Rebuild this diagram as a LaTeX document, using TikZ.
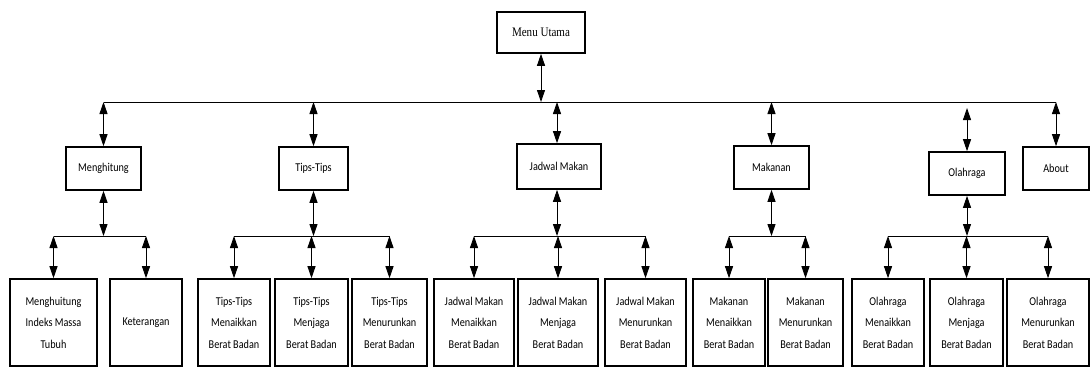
\documentclass[tikz,border=0pt]{standalone}
\usepackage{fontspec}
\setmainfont{Carlito}[FakeStretch=0.85]
\newfontfamily\menufont{Liberation Serif}[FakeStretch=0.85]
\usetikzlibrary{arrows.meta}

\tikzset{
  box/.style={draw, line width=1.6pt, inner sep=0pt, align=center,
    font=\fontsize{12}{21.5}\selectfont},
  upper/.style={box, minimum height=43pt},
  lower/.style={box, minimum height=87pt},
  link/.style={line width=0.9pt,
    {Triangle[width=8pt,length=12pt]}-{Triangle[width=8pt,length=12pt]}},
  rail/.style={line width=0.9pt}
}

\begin{document}
\begin{tikzpicture}[x=1pt,y=-1pt]
		\useasboundingbox (0,0) rectangle (1091,368);
		% main menu
		\node[box, minimum width=88pt, minimum height=41pt,
			font=\menufont\fontsize{13}{15}\selectfont] (menu) at (541,32.5) {Menu Utama};
		\coordinate (bus) at (0,102);
		\coordinate (lowbus) at (0,236);
		% first level
		\node[upper, minimum width=75pt] (hit) at (103.5,168.5) {Menghitung};
		\node[upper, minimum width=69pt] (tips) at (313.5,168.5) {Tips-Tips};
		\node[upper, minimum width=84pt, minimum height=45pt] (jadwal) at (559,166.5) {Jadwal Makan};
		\node[upper, minimum width=75pt] (makan) at (771.5,167.5) {Makanan};
		\node[upper, minimum width=76pt] (olah) at (967,173.5) {Olahraga};
		\node[upper, minimum width=66pt] (about) at (1056,168.5) {About};
		% second level
		\node[lower, minimum width=87pt] (imt) at (53.5,322.5) {Menghuitung\\Indeks Massa\\Tubuh};
		\node[lower, minimum width=72pt] (ket) at (146,322.5) {Keterangan};
		\node[lower, minimum width=72pt] (tnaik) at (234,322.5) {Tips-Tips\\Menaikkan\\Berat Badan};
		\node[lower, minimum width=73pt] (tjaga) at (311.5,322.5) {Tips-Tips\\Menjaga\\Berat Badan};
		\node[lower, minimum width=75pt] (tturun) at (389.5,322.5) {Tips-Tips\\Menurunkan\\Berat Badan};
		\node[lower, minimum width=80pt] (jnaik) at (474,322.5) {Jadwal Makan\\Menaikkan\\Berat Badan};
		\node[lower, minimum width=80pt] (jjaga) at (558,322.5) {Jadwal Makan\\Menjaga\\Berat Badan};
		\node[lower, minimum width=81pt] (jturun) at (645.5,322.5) {Jadwal Makan\\Menurunkan\\Berat Badan};
		\node[lower, minimum width=72pt] (mnaik) at (729,322.5) {Makanan\\Menaikkan\\Berat Badan};
		\node[lower, minimum width=75pt] (mturun) at (805.5,322.5) {Makanan\\Menurunkan\\Berat Badan};
		\node[lower, minimum width=72pt] (onaik) at (888,322.5) {Olahraga\\Menaikkan\\Berat Badan};
		\node[lower, minimum width=73pt] (ojaga) at (966.5,322.5) {Olahraga\\Menjaga\\Berat Badan};
		\node[lower, minimum width=82pt] (oturun) at (1048,322.5) {Olahraga\\Menurunkan\\Berat Badan};
		% main bus
		\draw[rail] (hit |- bus) -- (about |- bus);
		\draw[link] (menu) -- (menu |- bus);
		\foreach \n in {hit,tips,makan,about}
			\draw[link] (\n |- bus) -- (\n);
		\draw[link] ([xshift=-2pt]jadwal.north |- bus) -- ([xshift=-2pt]jadwal.north);
		\draw[link, shorten <=6pt] (olah |- bus) -- (olah);
		% lower buses
		\draw[rail]
			(imt |- lowbus) -- (ket |- lowbus)
			(tnaik |- lowbus) -- (tturun |- lowbus)
			(jnaik |- lowbus) -- (jturun |- lowbus)
			(mnaik |- lowbus) -- (mturun |- lowbus)
			(onaik |- lowbus) -- (oturun |- lowbus);
		\foreach \n in {hit,tips,makan,olah}
			\draw[link] (\n) -- (\n |- lowbus);
		\draw[link] ([xshift=-2pt]jadwal.south) -- ([xshift=-2pt]jadwal.south |- lowbus);
		\foreach \n in {imt,ket,tnaik,tjaga,tturun,jnaik,jjaga,jturun,mnaik,mturun,onaik,ojaga,oturun}
			\draw[link] (\n |- lowbus) -- (\n);
	\end{tikzpicture}
\end{document}
